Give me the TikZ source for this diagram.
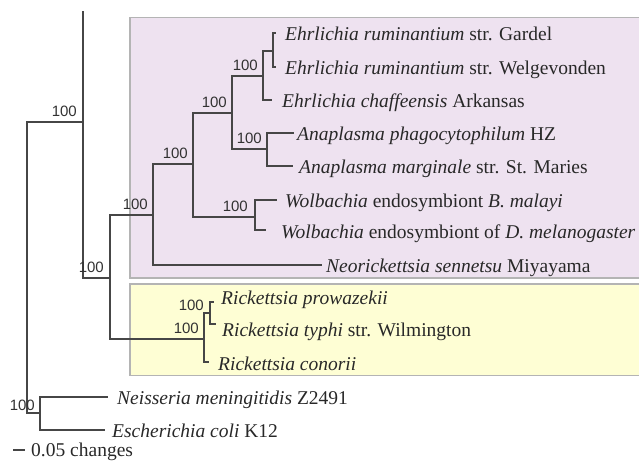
\documentclass[tikz,border=0pt]{standalone}
\usepackage{fontspec}
\setmainfont{Liberation Serif}
\newfontfamily\lblfont{Liberation Sans}
\definecolor{brc}{RGB}{70,70,70}
\definecolor{txc}{RGB}{40,40,40}
\definecolor{lblc}{RGB}{50,50,50}
\definecolor{boxc}{RGB}{180,180,180}
\definecolor{purp}{RGB}{238,226,240}
\definecolor{yell}{RGB}{254,254,212}
\begin{document}
\begin{tikzpicture}[x=1pt,y=-1pt,
  br/.style={draw=brc, line width=1.4pt},
  bs/.style={font=\lblfont\fontsize{15}{15}\selectfont, text=lblc, inner sep=0pt, anchor=south east},
  taxon/.style={font=\fontsize{19.5}{20}\selectfont, text=txc, inner sep=0pt, anchor=west, text height=14pt, text depth=0pt},
  clade/.style={draw=boxc, line width=1.5pt}]
\useasboundingbox (0,0) rectangle (639,461);
\clip (0,0) rectangle (639,461);
% clade boxes
\path[clade, fill=purp] (130,17.5) rectangle (645,278);
\path[clade, fill=yell] (130,284) rectangle (645,375.5);
% internal nodes
\coordinate (R0) at (27,267);
\coordinate (A) at (83,122);
\coordinate (Atop) at (83,11);
\coordinate (B) at (110,278);
\coordinate (C) at (153,215);
\coordinate (D) at (193,164);
\coordinate (E) at (232,113);
\coordinate (Eh) at (263,76);
\coordinate (EhR) at (273,51);
\coordinate (An) at (267,149);
\coordinate (W) at (255,217);
\coordinate (Rk) at (204,339);
\coordinate (Rk2) at (210,313);
\coordinate (N) at (40,413);
% tips
\coordinate (t1) at (276,33);
\coordinate (t2) at (276,67);
\coordinate (t3) at (272,100);
\coordinate (t4) at (294,133);
\coordinate (t5) at (293,166);
\coordinate (t6) at (277,200);
\coordinate (t7) at (266,230);
\coordinate (t8) at (322,265);
\coordinate (t9) at (214,302);
\coordinate (t10) at (216,324);
\coordinate (t11) at (209,362);
\coordinate (t12) at (108,397);
\coordinate (t13) at (105,430);
% branches
\draw[br] (R0) |- (A);
\draw[br] (R0) |- (N);
\draw[br] (A) -- (Atop);
\draw[br] (A) |- (B);
\draw[br] (B) |- (C);
\draw[br] (B) |- (Rk);
\draw[br] (C) |- (D);
\draw[br] (C) |- (t8);
\draw[br] (D) |- (E);
\draw[br] (D) |- (W);
\draw[br] (E) |- (Eh);
\draw[br] (E) |- (An);
\draw[br] (Eh) |- (EhR);
\draw[br] (Eh) |- (t3);
\draw[br] (EhR) |- (t1);
\draw[br] (EhR) |- (t2);
\draw[br] (An) |- (t4);
\draw[br] (An) |- (t5);
\draw[br] (W) |- (t6);
\draw[br] (W) |- (t7);
\draw[br] (Rk) |- (Rk2);
\draw[br] (Rk) |- (t11);
\draw[br] (Rk2) |- (t9);
\draw[br] (Rk2) |- (t10);
\draw[br] (N) |- (t12);
\draw[br] (N) |- (t13);
% bootstrap values
\node[bs] (bA) at ([shift={(-6,-5)}]A) {100};
\node[bs] (bB) at ([shift={(-6,-5)}]B) {100};
\node[bs] (bC) at ([shift={(-5,-5)}]C) {100};
\node[bs] (bD) at ([shift={(-5,-5)}]D) {100};
\node[bs] (bE) at ([shift={(-5,-5)}]E) {100};
\node[bs] (bEh) at ([shift={(-5,-5)}]Eh) {100};
\node[bs] (bAn) at ([shift={(-5,-5)}]An) {100};
\node[bs] (bW) at ([shift={(-7,-5)}]W) {100};
\node[bs] (bRk) at ([shift={(-5,-5)}]Rk) {100};
\node[bs] (bRk2) at ([shift={(-6,-2)}]Rk2) {100};
\node[bs] (bN) at ([shift={(-5,-2)}]N) {100};
% taxa
\node[taxon] (l1) at (285,33) {\textit{Ehrlichia ruminantium} str. Gardel};
\node[taxon] (l2) at (285,67) {\textit{Ehrlichia ruminantium} str. Welgevonden};
\node[taxon] (l3) at (282,100) {\textit{Ehrlichia chaffeensis} Arkansas};
\node[taxon] (l4) at (297,133) {\textit{Anaplasma phagocytophilum} HZ};
\node[taxon] (l5) at (299,166) {\textit{Anaplasma marginale} str. St. Maries};
\node[taxon] (l6) at (285,200) {\textit{Wolbachia} endosymbiont \textit{B. malayi}};
\node[taxon] (l7) at (281,231) {\textit{Wolbachia} endosymbiont of \textit{D. melanogaster}};
\node[taxon] (l8) at (326,265) {\textit{Neorickettsia sennetsu} Miyayama};
\node[taxon] (l9) at (221,297) {\textit{Rickettsia prowazekii}};
\node[taxon] (l10) at (222,329) {\textit{Rickettsia typhi} str. Wilmington};
\node[taxon] (l11) at (218,363) {\textit{Rickettsia conorii}};
\node[taxon] (l12) at (117,397) {\textit{Neisseria meningitidis} Z2491};
\node[taxon] (l13) at (112,430) {\textit{Escherichia coli} K12};
% scale bar
\coordinate (s0) at (13,450);
\coordinate (s1) at (25,450);
\draw[br] (s0) -- (s1);
\node[taxon, text height=13pt] (scl) at (31,450) {0.05 changes};
\end{tikzpicture}
\end{document}
